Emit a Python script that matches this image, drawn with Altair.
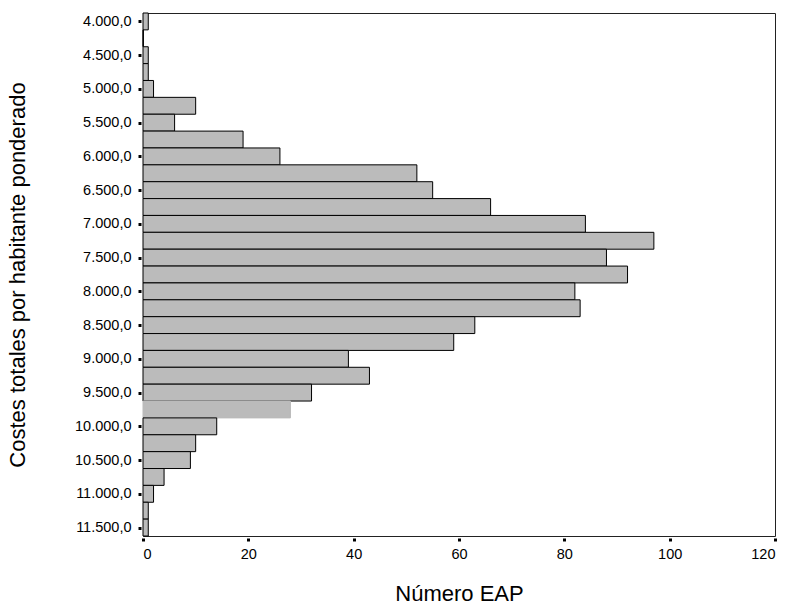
import altair as alt
import pandas as pd

# Bin centres (Costes totales por habitante ponderado)
bins = [4000, 4250, 4500, 4750, 5000, 5250, 5500, 5750, 6000, 6250, 6500,
        6750, 7000, 7250, 7500, 7750, 8000, 8250, 8500, 8750, 9000, 9250,
        9500, 9750, 10000, 10250, 10500, 10750, 11000, 11250, 11500]
# Número EAP per bin
counts = [1, 0, 1, 1, 2, 10, 6, 19, 26, 52, 55, 66, 84, 97, 88, 92, 82, 83,
          63, 59, 39, 43, 32, 28, 14, 10, 9, 4, 2, 1, 1]

y_ticks = [4000, 4500, 5000, 5500, 6000, 6500, 7000, 7500, 8000, 8500,
           9000, 9500, 10000, 10500, 11000, 11500]
x_ticks = [0, 20, 40, 60, 80, 100, 120]

df = pd.DataFrame({"bin": bins, "count": counts})

label_expr = ("replace(replace(replace(format(datum.value, ',.1f'), ',', '_'), "
              "'.', ','), '_', '.')")

chart = (
    alt.Chart(df)
    .transform_calculate(lo="datum.bin - 125", hi="datum.bin + 125")
    .mark_bar(fill="#bbbbbb", strokeWidth=1)
    .encode(
        x=alt.X("count:Q",
                scale=alt.Scale(domain=[0, 120], nice=False),
                axis=alt.Axis(values=x_ticks, title="Número EAP", grid=False,
                              domain=False, offset=2, tickSize=3, tickWidth=3,
                              tickColor="#000", labelPadding=6,
                              titlePadding=23)),
        x2=alt.value(0),
        y=alt.Y("lo:Q",
                scale=alt.Scale(domain=[3875, 11625], reverse=True, nice=False,
                                zero=False),
                axis=alt.Axis(values=y_ticks, labelExpr=label_expr,
                              title="Costes totales por habitante ponderado",
                              grid=False, domain=False, offset=2, tickSize=3,
                              tickWidth=3, tickColor="#000", labelPadding=7,
                              titlePadding=45)),
        y2="hi:Q",
        stroke=alt.condition("datum.bin == 9750", alt.value("#bbbbbb"),
                             alt.value("#000000")),
    )
    .properties(
        width=632,
        height=523,
        autosize=alt.AutoSizeParams(type="none"),
        padding={"left": 143, "top": 13, "right": 20, "bottom": 69},
    )
    .configure(font="Liberation Sans")
    .configure_view(stroke="#222222", strokeWidth=1)
    .configure_axis(labelFontSize=14.5, labelColor="#000", titleFontSize=22,
                    titleColor="#000", titleFontWeight="normal")
)

chart.save("out.html", embed_options={"renderer": "svg", "actions": False})
